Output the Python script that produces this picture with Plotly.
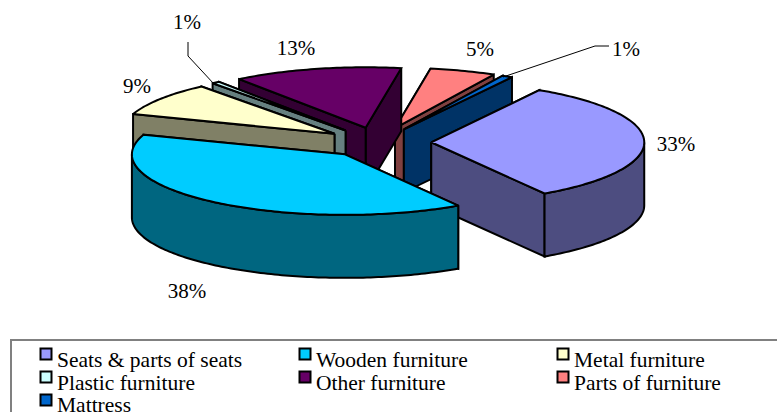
import numpy as np
import plotly.graph_objects as go

# --- data ---
categories = ["Seats & parts of seats", "Wooden furniture", "Metal furniture",
              "Plastic furniture", "Other furniture", "Parts of furniture", "Mattress"]
shares = [32.6, 39.2, 9.0, 0.6, 12.8, 5.0, 0.8]
percent_labels = ["33%", "38%", "9%", "1%", "13%", "5%", "1%"]
top_colors = ["#9999FF", "#00CCFF", "#FFFFCC", "#CCFFFF", "#660066", "#FF8080", "#0066CC"]
side_colors = ["#4D4D80", "#006680", "#808066", "#668080", "#330033", "#804040", "#003366"]

# --- pie geometry (style) ---
CX, CY, RX, RY = 378, 142.5, 213, 60.5
DEPTH, EXPLODE, START = 63, 0.25, 59.5
PAINT_ORDER = [5, 6, 0, 4, 3, 2, 1]
FONT = "Liberation Serif"
LABEL_XY = [(676, 146), (187, 293), (137, 87.5), (187, 23.5), (296, 49.5), (480, 50.5), (626, 50.5)]
LEADERS = [([188, 188, 214], [42, 56, 84]), ([609, 595, 503], [46, 46, 77])]
LEG_SWATCH_X = [46, 305, 563]
LEG_SWATCH_Y = [354, 377, 400]
LEG_TEXT_X = [57, 316, 574]
LEG_TEXT_Y = [361.5, 384.5, 406.5]

fig = go.Figure()


def poly(xs, ys, fill):
    fig.add_trace(go.Scatter(x=list(xs) + [xs[0]], y=list(ys) + [ys[0]], mode="lines",
                             fill="toself", fillcolor=fill,
                             line=dict(color="black", width=2, simplify=False),
                             hoverinfo="skip", showlegend=False))


ends = START - np.cumsum(shares) * 3.6
starts = np.concatenate([[START], ends[:-1]])

for i in PAINT_ORDER:
    t0, t1 = starts[i], ends[i]
    mid = np.radians((t0 + t1) / 2)
    ax = CX + EXPLODE * RX * np.cos(mid)
    ay = CY - EXPLODE * RY * np.sin(mid)
    ts = np.radians(np.linspace(t0, t1, max(4, int(abs(t1 - t0)))))
    ex = ax + RX * np.cos(ts)
    ey = ay - RY * np.sin(ts)
    # radial walls, the one further back first
    for px, py in sorted([(ex[0], ey[0]), (ex[-1], ey[-1])], key=lambda p: p[1]):
        poly([ax, px, px, ax], [ay, py, py + DEPTH, ay + DEPTH], side_colors[i])
    # curved outer wall: only the part that faces the viewer
    front = np.sin(ts) < 0
    if front.any():
        fx, fy = ex[front], ey[front]
        poly(list(fx) + list(fx[::-1]), list(fy) + list(fy[::-1] + DEPTH), side_colors[i])
    # top face
    poly([ax] + list(ex), [ay] + list(ey), top_colors[i])

# leader lines
for lx, ly in LEADERS:
    fig.add_trace(go.Scatter(x=lx, y=ly, mode="lines", line=dict(color="black", width=1),
                             hoverinfo="skip", showlegend=False))

# percent labels
fig.add_trace(go.Scatter(x=[p[0] for p in LABEL_XY], y=[p[1] for p in LABEL_XY], mode="text",
                         text=percent_labels, textposition="middle center",
                         textfont=dict(family=FONT, size=21, color="black"),
                         hoverinfo="skip", showlegend=False))

# legend, three columns
for k, name in enumerate(categories):
    col, row = k % 3, k // 3
    fig.add_trace(go.Scatter(x=[LEG_SWATCH_X[col]], y=[LEG_SWATCH_Y[row]], mode="markers",
                             marker=dict(symbol="square", size=11, color=top_colors[k],
                                         line=dict(color="black", width=2)),
                             hoverinfo="skip", showlegend=False))
    fig.add_trace(go.Scatter(x=[LEG_TEXT_X[col]], y=[LEG_TEXT_Y[row]], mode="text",
                             text=[name], textposition="middle right",
                             textfont=dict(family=FONT, size=21.5, color="black"),
                             hoverinfo="skip", showlegend=False))

fig.update_layout(
    width=777, height=412, margin=dict(l=0, r=0, t=0, b=0),
    paper_bgcolor="white", plot_bgcolor="white",
    xaxis=dict(range=[0, 777], visible=False, fixedrange=True),
    yaxis=dict(range=[412, 0], visible=False, fixedrange=True),
    shapes=[dict(type="rect", xref="x", yref="y", x0=11, y0=340, x1=800, y1=430,
                 line=dict(color="#808080", width=2), layer="below")],
)
fig.write_html("out.html", post_script="document.body.style.margin='0';",
               config={"displayModeBar": False})
